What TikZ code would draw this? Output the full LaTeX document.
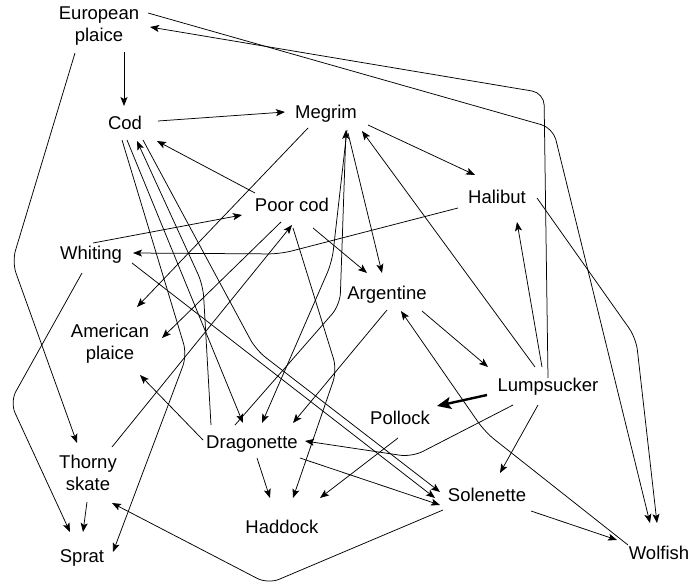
\documentclass[tikz,border=0pt]{standalone}
\usepackage{fontspec}
\setmainfont{Liberation Sans}
\usetikzlibrary{arrows.meta}
\begin{document}
\begin{tikzpicture}[x=1pt,y=-1pt,
  fish/.style={font=\fontsize{18.5}{22}\selectfont, inner sep=0pt, align=center, text height=13.5pt, text depth=0.5pt},
  fishtwo/.style={font=\fontsize{18.5}{22}\selectfont, inner sep=0pt, align=center},
  link/.style={line width=0.75pt, -{Stealth[length=9pt,width=7pt,inset=2pt]}, rounded corners=12pt},
  boldlink/.style={line width=2.4pt, -{Stealth[length=14pt,width=12pt,inset=3pt]}}]
\useasboundingbox[fill=white] (0,0) rectangle (691,586);
% nodes
\node[fishtwo] (ep) at (99,26) {European\\plaice};
\node[fish] (cod) at (125,123) {Cod};
\node[fish] (megrim) at (326,112) {Megrim};
\node[fish] (poorcod) at (292,205) {Poor cod};
\node[fish] (halibut) at (497,197) {Halibut};
\node[fish] (whiting) at (91,253) {Whiting};
\node[fish] (argentine) at (387,293) {Argentine};
\node[fishtwo] (amplaice) at (110,344) {American\\plaice};
\node[fish] (lumpsucker) at (548,385) {Lumpsucker};
\node[fish] (pollock) at (400,418) {Pollock};
\node[fish] (dragonette) at (252,442) {Dragonette};
\node[fishtwo] (thorny) at (88,473) {Thorny\\skate};
\node[fish] (solenette) at (487,495) {Solenette};
\node[fish] (haddock) at (282,527) {Haddock};
\node[fish] (sprat) at (82,556) {Sprat};
\node[fish] (wolfish) at (659,553) {Wolfish};
% edges
\draw[link] ([shift={(25,26)}]ep.center) -- ([shift={(-1,-17)}]cod.center);
\draw[link] ([shift={(33,-2)}]cod.center) -- ([shift={(-41,0)}]megrim.center);
\draw[link] ([shift={(-37,-12)}]poorcod.center) -- ([shift={(32,18)}]cod.center);
\draw[link] ([shift={(-18,16)}]megrim.center) -- ([shift={(27,-37)}]amplaice.center);
\draw[link] ([shift={(-11,17)}]poorcod.center) -- ([shift={(52,-6)}]amplaice.center);
\draw[link] ([shift={(24,-26)}]thorny.center) -- ([shift={(0,20)}]poorcod.center);
\draw[link] ([shift={(2,-10)}]whiting.center) -- ([shift={(-50,10)}]poorcod.center);
\draw[link] ([shift={(-39,11)}]halibut.center) -- (280,254) -- ([shift={(42,0)}]whiting.center);
\draw[link] ([shift={(42,13)}]megrim.center) -- ([shift={(-22,-22)}]halibut.center);
\draw[link] ([shift={(-13,-18)}]lumpsucker.center) -- ([shift={(36,19)}]megrim.center);
\draw[link] ([shift={(-6,-18)}]lumpsucker.center) -- ([shift={(20,25)}]halibut.center);
\draw[link] ([shift={(0,-7)}]lumpsucker.center) -- (544,93) -- ([shift={(51,1)}]ep.center);
\draw[link] ([shift={(49,-13)}]ep.center) -- (553,128) -- ([shift={(-9,-30)}]wolfish.center);
\draw[link] ([shift={(40,1)}]halibut.center) -- (636,338) -- ([shift={(-2,-30)}]wolfish.center);
\draw[link] ([shift={(35,18)}]argentine.center) -- ([shift={(-60,-18)}]lumpsucker.center);
\draw[boldlink] ([shift={(-61,10)}]lumpsucker.center) -- ([shift={(37,-12)}]pollock.center);
\draw[link] ([shift={(-10,20)}]lumpsucker.center) -- ([shift={(13,-22)}]solenette.center);
\draw[link] ([shift={(-35,20)}]lumpsucker.center) -- (412,457) -- ([shift={(53,-1)}]dragonette.center);
\draw[link] ([shift={(44,16)}]solenette.center) -- ([shift={(-42,-13)}]wolfish.center);
\draw[link] ([shift={(-44,15)}]solenette.center) -- (268,584) -- ([shift={(24,30)}]thorny.center);
\draw[link] ([shift={(-31,-8)}]wolfish.center) -- (485,432) -- ([shift={(14,18)}]argentine.center);
\draw[link] ([shift={(0,17)}]argentine.center) -- ([shift={(41,-19)}]dragonette.center);
\draw[link] ([shift={(21,23)}]poorcod.center) -- ([shift={(-20,-20)}]argentine.center);
\draw[link] ([shift={(22,21)}]megrim.center) -- ([shift={(-5,-20)}]argentine.center);
\draw[link] ([shift={(-2,20)}]pollock.center) -- ([shift={(38,-29)}]haddock.center);
\draw[link] ([shift={(5,16)}]dragonette.center) -- ([shift={(-12,-29)}]haddock.center);
\draw[link] ([shift={(-49,-2)}]dragonette.center) -- ([shift={(30,31)}]amplaice.center);
\draw[link] ([shift={(-1,29)}]thorny.center) -- ([shift={(1,-24)}]sprat.center);
\draw[link] ([shift={(-24,27)}]ep.center) -- (12,262) -- ([shift={(-11,-30)}]thorny.center);
\draw[link] ([shift={(-9,20)}]whiting.center) -- (10,402) -- ([shift={(-12,-24)}]sprat.center);
\draw[link] ([shift={(-3,17)}]cod.center) -- (187,355) -- ([shift={(31,-4)}]sprat.center);
\draw[link] ([shift={(-41,-17)}]dragonette.center) -- (203,285) -- ([shift={(12,18)}]cod.center);
\draw[link] ([shift={(18,17)}]cod.center) -- (256,350) -- ([shift={(-47,-3)}]solenette.center);
\draw[link] ([shift={(41,10)}]whiting.center) -- ([shift={(-52,3)}]solenette.center);
\draw[link] ([shift={(48,16)}]dragonette.center) -- ([shift={(-47,10)}]solenette.center);
\draw[link] ([shift={(21,18)}]megrim.center) -- (332,262) -- ([shift={(10,-19)}]dragonette.center);
\draw[link] ([shift={(-17,-17)}]dragonette.center) -- (340,305) -- ([shift={(20,18)}]megrim.center);
\draw[link] ([shift={(1,23)}]poorcod.center) -- (337,370) -- ([shift={(11,-29)}]haddock.center);
\draw[link] ([shift={(2,17)}]cod.center) -- ([shift={(-9,-19)}]dragonette.center);
\end{tikzpicture}
\end{document}
